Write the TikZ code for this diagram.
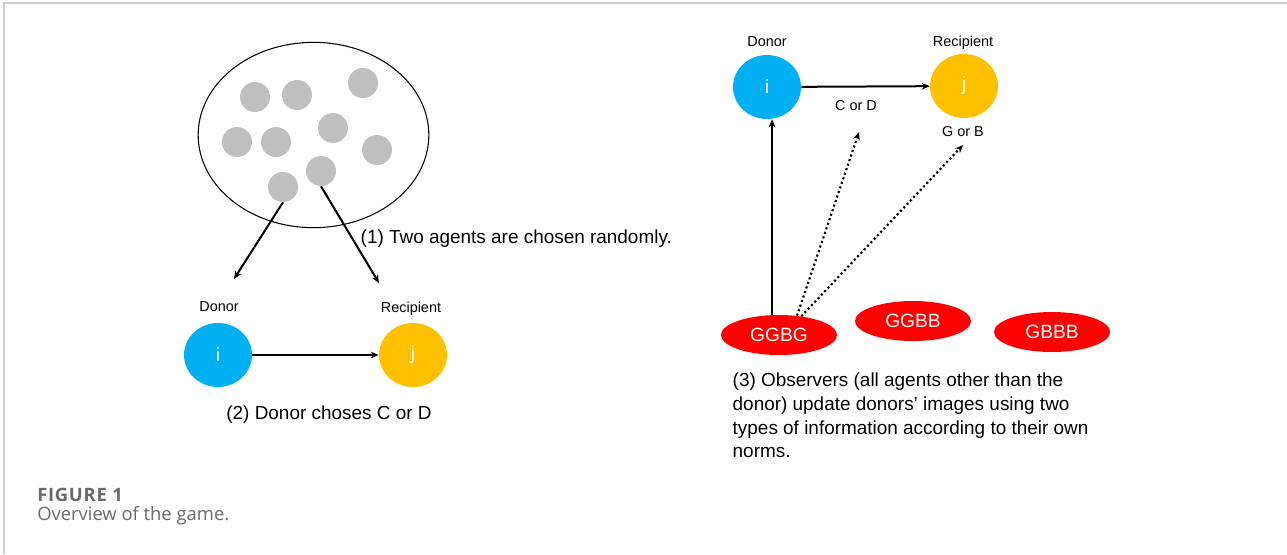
\documentclass[tikz,border=0pt]{standalone}
\usepackage{fontspec}
\setmainfont{Liberation Sans}
\newfontfamily\capfont{Open Sans}
\usetikzlibrary{arrows.meta,shapes.geometric,calc}

\definecolor{donorblue}{HTML}{00B0F0}
\definecolor{recipyellow}{HTML}{FFC000}
\definecolor{normred}{HTML}{FF0000}
\definecolor{agentgray}{HTML}{BFBFBF}
\definecolor{framegray}{HTML}{CCCCCC}
\definecolor{captext}{HTML}{6A6A6A}

\tikzset{
  agent/.style={circle, fill=agentgray, minimum size=22.5pt, inner sep=0pt},
  player/.style={ellipse, minimum width=51pt, minimum height=48pt, inner sep=0pt,
    text=white, font=\fontsize{14.4}{16}\selectfont},
  donor/.style={player, fill=donorblue},
  recip/.style={player, fill=recipyellow},
  norm/.style={ellipse, fill=normred, minimum width=87pt, minimum height=30pt,
    inner sep=0pt, text=white, font=\fontsize{14.4}{16}\selectfont},
  rolelabel/.style={font=\fontsize{10.8}{12}\selectfont},
  steptext/.style={font=\fontsize{14.2}{17.8}\selectfont, align=left},
  solidarrow/.style={line width=1.5pt, -{Stealth[length=6pt,width=5pt]}},
  dotarrow/.style={line width=1.6pt, dotted, -{Stealth[length=6pt,width=5pt]}},
  captionline/.style={anchor=base west, inner sep=0pt, text=captext},
}

\begin{document}
\begin{tikzpicture}[x=0.75pt, y=-0.75pt]
  \useasboundingbox (0,0) rectangle (1287,554);

  % panel frame
  \draw[framegray, line width=1pt] (4,554) -- (4,3) -- (1287,3);

  % population of agents
  \node[ellipse, draw, line width=0.8pt, minimum width=173pt, minimum height=139pt,
        inner sep=0pt] (pop) at (313.5,135) {};
  \node[agent] (a1) at (255,97) {};
  \node[agent] (a2) at (297,95) {};
  \node[agent] (a3) at (363,83) {};
  \node[agent] (a4) at (333,128) {};
  \node[agent] (a5) at (237,142) {};
  \node[agent] (a6) at (276,142) {};
  \node[agent] (a7) at (377,150) {};
  \node[agent] (a8) at (321,171) {};
  \node[agent] (a9) at (283,187) {};

  \coordinate (pickD) at (234,279);
  \coordinate (pickR) at (379,283);
  \draw[solidarrow] (a9.south) -- (pickD);
  \draw[solidarrow] (a8.south) -- (pickR);

  \node[steptext, anchor=west] (step1) at (356,239) {(1) Two agents are chosen randomly.};

  % donor and recipient
  \node[rolelabel] (lD) at (219,307) {Donor};
  \node[rolelabel] (lR) at (411,309) {Recipient};
  \node[donor] (i1) at (218,355) {i};
  \node[recip] (j1) at (413,355) {j};
  \draw[solidarrow] (i1) -- (j1);
  \node[steptext] (step2) at (329,415) {(2) Donor choses C or D};

  % observation step
  \node[rolelabel] (rD) at (767,42) {Donor};
  \node[rolelabel] (rR) at (963,43) {Recipient};
  \node[donor] (i2) at (767,87) {i};
  \node[recip] (j2) at (964,86) {j};
  \draw[solidarrow] (i2) -- (j2);
  \node[rolelabel] (cd) at (856,106) {C or D};
  \node[rolelabel] (gb) at (963,132) {G or B};

  \node[norm] (o1) at (779,335) {GGBG};
  \node[norm] (o2) at (913,321) {GGBB};
  \node[norm] (o3) at (1052,332) {GBBB};

  \coordinate (seeAct) at (859,132);
  \coordinate (seeImg) at (963,145);
  \draw[solidarrow] (o1.109) -- (o1.109 |- i2.south);
  \draw[dotarrow] (o1.47) -- (seeAct);
  \draw[dotarrow] (o1.40) -- (seeImg);

  \node[steptext, anchor=west] (step3) at (728,415.5)
    {(3) Observers (all agents other than the\\
     donor) update donors’ images using two\\
     types of information according to their own\\
     norms.};

  % caption
  \node[captionline, font=\capfont\bfseries\fontsize{13.8}{16}\selectfont\addfontfeatures{LetterSpace=4}]
    (capT) at (37,501) {FIGURE 1};
  \node[captionline, font=\capfont\fontsize{13.8}{16}\selectfont]
    (capB) at (37,520) {Overview of the game.};
\end{tikzpicture}
\end{document}
